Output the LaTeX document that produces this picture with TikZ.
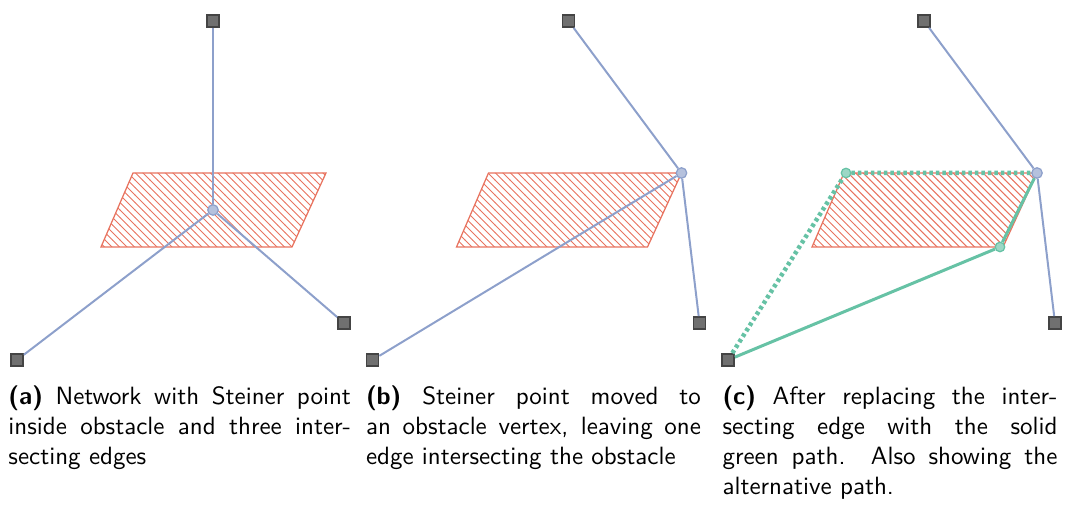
\documentclass[tikz,border=0pt]{standalone}
\usepackage{tikz}
\usetikzlibrary{patterns}
\definecolor{eb}{HTML}{8DA0CB}
\definecolor{ob}{HTML}{E8735F}
\definecolor{gn}{HTML}{66C2A5}
\definecolor{tg}{HTML}{707070}
\definecolor{td}{HTML}{444444}

\begin{document}
\begin{tikzpicture}[x=0.4pt,y=-0.4pt,
  t/.style={draw=td,fill=tg,line width=0.7pt,minimum size=4.8pt,inner sep=0pt},
  s/.style={circle,draw=eb,fill=eb!65,line width=0.5pt,minimum size=4.2pt,inner sep=0pt},
  g/.style={circle,draw=gn,fill=gn!65,line width=0.5pt,minimum size=3.8pt,inner sep=0pt},
  o/.style={draw=ob,line width=0.5pt,pattern=north west lines,pattern color=ob},
  e/.style={draw=eb,line width=0.8pt},
  gp/.style={draw=gn,line width=1.2pt},
  ga/.style={draw=gn,line width=1.8pt,dash pattern=on 1.4pt off 1.2pt},
  capt/.style={anchor=north west,text width=134pt,align=justify,inner sep=0pt,font=\sffamily}]
\useasboundingbox (0,0) rectangle (1067,510);
% (a)
\draw[o](133,173)--(326,173)--(292,247)--(101,247)--cycle;
\node[t](a1) at (213,21){};
\node[t](a2) at (17,360){};
\node[t](a3) at (344,323){};
\node[s](as) at (213,210){};
\foreach \i in {a1,a2,a3}
  \draw[e](as)--(\i);
\node[capt,text width=137pt] at (8,385){\textbf{(a)} Network with Steiner point\linebreak
  inside obstacle and three inter-\linebreak secting edges};
% (b)
\begin{scope}[shift={(355.5,0)}]
\draw[o](133,173)--(326,173)--(292,247)--(101,247)--cycle;
\node[t](b1) at (213,21){};
\node[t](b2) at (17,360){};
\node[t](b3) at (344,323){};
\node[s](bs) at (326,173){};
\foreach \i in {b1,b2,b3}
  \draw[e](bs)--(\i);
\node[capt] at (10,385){\textbf{(b)} Steiner point moved to\linebreak
  an obstacle vertex, leaving one\linebreak edge intersecting the obstacle};
\end{scope}
% (c)
\begin{scope}[shift={(711,0)}]
\draw[o](133,173)--(326,173)--(292,247)--(101,247)--cycle;
\node[t](c1) at (213,21){};
\node[t](c2) at (17,360){};
\node[t](c3) at (344,323){};
\node[s](cs) at (326,173){};
\node[g](cu) at (135,173){};
\node[g](cv) at (289,247){};
\foreach \i in {c1,c3}
  \draw[e](cs)--(\i);
\draw[ga](c2)--(cu)--(cs);
\draw[gp](c2)--(cv)--(cs);
\node[capt] at (11,385){\textbf{(c)} After replacing the inter-\linebreak secting edge with the solid\linebreak
  green path. Also showing the\linebreak alternative path.};
\end{scope}
\end{tikzpicture}
\end{document}
